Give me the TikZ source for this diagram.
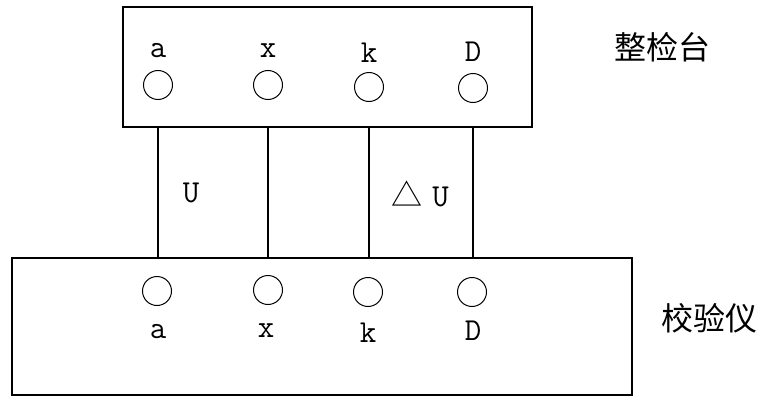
\documentclass[tikz,border=0pt]{standalone}
\usepackage{fontspec}
\newfontfamily\cjk{Noto Sans CJK SC}
\usepackage{tikz}
\usetikzlibrary{positioning}
\usetikzlibrary{calc}
\tikzset{
    every picture/.style={x=1pt,y=-1pt,line width=1.2pt},
}
\begin{document}
\begin{tikzpicture}[term/.style={circle,draw,line width=1pt,minimum size=29pt,inner sep=0pt},
letter/.style={anchor=base,inner sep=0pt,font=\fontsize{32}{34}\selectfont\ttfamily},
caption/.style={inner sep=0pt,font=\fontsize{32}{34}\selectfont\cjk}]
\useasboundingbox (0,0) rectangle (765,396);
\node[draw,minimum width=409pt,minimum height=120pt,inner sep=0pt] (top) at (327.5,67) {};
\node[draw,minimum width=620pt,minimum height=137pt,inner sep=0pt] (bot) at (322,326.5) {};
\node[caption] (topname) at (662,47) {整检台};
\node[caption] (botname) at (709,318) {校验仪};

\node[term] (ta) at (158,85) {};
\node[term] (tx) at (268,85) {};
\node[term] (tk) at (369,87) {};
\node[term] (tD) at (473,88) {};
\node[letter] (lta) at (158,57) {a};
\node[letter] (ltx) at (268,57) {x};
\node[letter] (ltk) at (369,63) {k};
\node[letter] (ltD) at (473,62) {D};

\node[term] (ba) at (157,291) {};
\node[term] (bx) at (268,290) {};
\node[term] (bk) at (368,292) {};
\node[term] (bD) at (472,292) {};
\node[letter] (lba) at (158,338) {a};
\node[letter] (lbx) at (266,337) {x};
\node[letter] (lbk) at (368,342) {k};
\node[letter] (lbD) at (473,340) {D};

\draw (ta |- top.south) -- (ta |- bot.north)
(tx |- top.south) -- (tx |- bot.north)
(tk |- top.south) -- (tk |- bot.north)
(tD |- top.south) -- (tD |- bot.north);

\node[letter] (u) at (191,202) {U};
\node[letter] (du) at (420,206) {{\fontsize{31}{34}\selectfont\cjk △}\hspace{10pt}U};
\end{tikzpicture}
\end{document}
